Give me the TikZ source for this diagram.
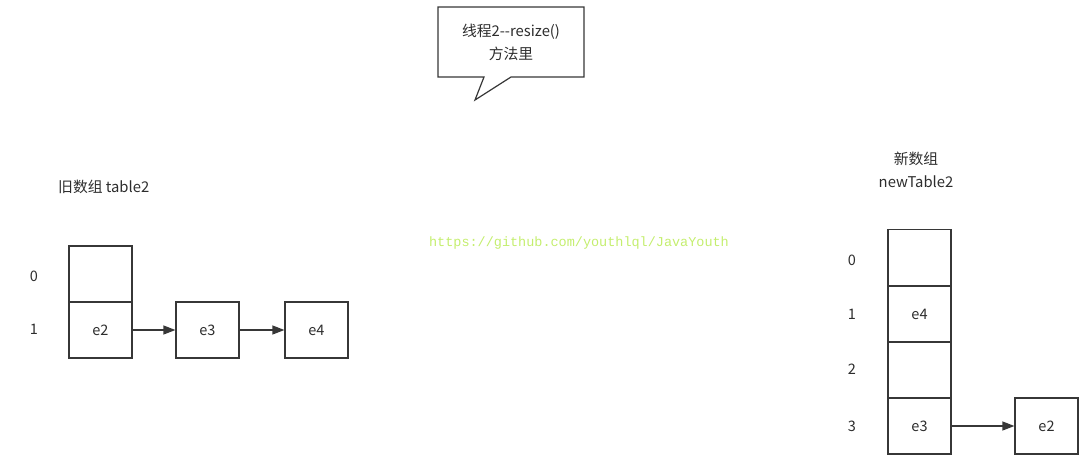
\documentclass[tikz,border=0pt]{standalone}
\usepackage{fontspec}
\setmainfont{Noto Sans CJK SC}
\newfontfamily\urlfont{Liberation Mono}
\usetikzlibrary{arrows.meta}
\definecolor{linec}{RGB}{55,55,55}
\definecolor{textc}{RGB}{45,45,45}
\definecolor{urlc}{RGB}{196,238,110}
\tikzset{
  cell/.style={draw=linec, line width=1.2pt, minimum width=63pt, minimum height=56pt, inner sep=0pt, font=\fontsize{14.5}{17}\selectfont, text=textc},
  idx/.style={font=\fontsize{14.5}{17}\selectfont, text=textc, inner sep=0pt},
  lbl/.style={font=\fontsize{14.8}{23}\selectfont, text=textc, align=center, inner sep=0pt},
  link/.style={draw=linec, line width=1.2pt, -{Triangle[length=12pt,width=9pt]}},
}
\begin{document}
\begin{tikzpicture}[x=1pt,y=-1pt]
\useasboundingbox (0,0) rectangle (1089,474);
% callout
\draw[linec, line width=1.2pt, fill=white] (438,7) -- (584,7) -- (584,77) -- (511,77) -- (475,100) -- (484,77) -- (438,77) -- cycle;
\node[lbl] (callout) at (511,42) {线程2{-}{-}resize()\\方法里};
% left
\node[lbl, anchor=west] (oldlbl) at (58,187) {旧数组 table2};
\node[cell] (a0) at (100.5,274) {};
\node[cell] (a1) at (100.5,330) {e2};
\node[cell] (b3) at (207.5,330) {e3};
\node[cell] (b4) at (316.5,330) {e4};
\node[idx] (i0) at (34,276) {0};
\node[idx] (i1) at (34,329) {1};
\draw[link] (a1) -- (b3);
\draw[link] (b3) -- (b4);
% url
\node[font=\urlfont\fontsize{13.5}{15}\selectfont, text=urlc, inner sep=0pt] (url) at (579,243) {https://github.com/youthlql/JavaYouth};
% right
\node[lbl] (newlbl) at (916,170) {新数组\\newTable2};
\node[cell] (n0) at (919.5,257.5) {};
\node[cell] (n1) at (919.5,314) {e4};
\node[cell] (n2) at (919.5,370) {};
\node[cell] (n3) at (919.5,426) {e3};
\node[cell] (c2) at (1046.5,426) {e2};
\node[idx] (j0) at (852,260) {0};
\node[idx] (j1) at (852,314) {1};
\node[idx] (j2) at (852,369) {2};
\node[idx] (j3) at (852,426) {3};
\draw[link] (n3) -- (c2);
\end{tikzpicture}
\end{document}
